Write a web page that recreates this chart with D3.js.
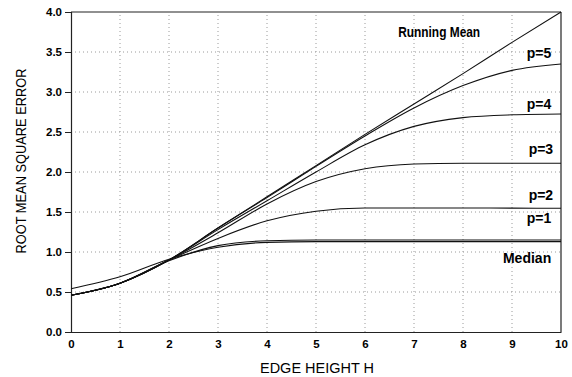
<!DOCTYPE html>
<html>
<head>
<meta charset="utf-8">
<script src="https://cdn.jsdelivr.net/npm/d3@7"></script>
<style>
  body { margin: 0; background: #fff; }
  svg { display: block; }
  .tick text { font-family: "Liberation Sans", Arial, sans-serif; font-weight: bold; font-size: 11.5px; fill: #000; }
</style>
</head>
<body>
<svg id="chart" width="572" height="377"></svg>
<script>
// ---- data ----
const edgeHeights = [0, 1, 2, 3, 4, 5, 6, 7, 8, 9, 10];
const runningMean = [0.46, 0.61, 0.90, 1.30, 1.69, 2.08, 2.47, 2.85, 3.23, 3.62, 4.00];
const p5 = [0.46, 0.61, 0.90, 1.30, 1.68, 2.07, 2.45, 2.80, 3.08, 3.27, 3.35];
const p4 = [0.46, 0.61, 0.90, 1.28, 1.64, 2.00, 2.34, 2.57, 2.68, 2.715, 2.725];
const p3 = [0.46, 0.61, 0.90, 1.24, 1.60, 1.88, 2.04, 2.10, 2.11, 2.11, 2.11];
const p2 = [0.46, 0.61, 0.90, 1.17, 1.39, 1.51, 1.55, 1.55, 1.55, 1.548, 1.546];
const p1 = [0.46, 0.61, 0.89, 1.08, 1.14, 1.15, 1.15, 1.15, 1.15, 1.15, 1.15];
const median = [0.54, 0.69, 0.91, 1.06, 1.12, 1.13, 1.13, 1.13, 1.13, 1.13, 1.13];
const seriesNames = ["Running Mean", "p=5", "p=4", "p=3", "p=2", "p=1", "Median"];
const seriesValues = [runningMean, p5, p4, p3, p2, p1, median];
const xTickValues = [0, 1, 2, 3, 4, 5, 6, 7, 8, 9, 10];
const yTickValues = [0, 0.5, 1.0, 1.5, 2.0, 2.5, 3.0, 3.5, 4.0];
// label anchor values (data coords, right-aligned)
const labelX = [8.35, 9.8, 9.8, 9.84, 9.84, 9.8, 9.8];
const labelY = [3.69, 3.43, 2.79, 2.23, 1.65, 1.36, 0.86];

// ---- layout ----
const svg = d3.select("#chart");
const margin = { left: 71, right: 11, top: 12, bottom: 45 };
const W = 572, H = 377;
const x = d3.scaleLinear().domain([0, 10]).range([margin.left, W - margin.right]);
const y = d3.scaleLinear().domain([0, 4]).range([H - margin.bottom, margin.top]);

// gridlines
const grid = svg.append("g");
grid.selectAll("line.gx").data(xTickValues.filter(d => d > 0 && d < 10)).join("line")
  .attr("x1", d => x(d)).attr("x2", d => x(d))
  .attr("y1", y(0)).attr("y2", y(4))
  .attr("stroke", "#9a9a9a").attr("stroke-width", 1).attr("stroke-dasharray", "1,3");
grid.selectAll("line.gy").data(yTickValues.filter(d => d > 0 && d < 4)).join("line")
  .attr("x1", x(0)).attr("x2", x(10))
  .attr("y1", d => y(d)).attr("y2", d => y(d))
  .attr("stroke", "#9a9a9a").attr("stroke-width", 1).attr("stroke-dasharray", "1,3");

// frame
svg.append("line").attr("x1", x(0)).attr("x2", x(10)).attr("y1", y(4)).attr("y2", y(4))
  .attr("stroke", "#222").attr("stroke-width", 1.2);
svg.append("line").attr("x1", x(10)).attr("x2", x(10)).attr("y1", y(4)).attr("y2", y(0))
  .attr("stroke", "#222").attr("stroke-width", 1.2);

// axes
const xAxis = svg.append("g").attr("transform", `translate(0,${y(0)})`)
  .call(d3.axisBottom(x).tickValues(xTickValues).tickFormat(d3.format("d")).tickSize(0).tickPadding(8));
const yAxis = svg.append("g").attr("transform", `translate(${x(0)},0)`)
  .call(d3.axisLeft(y).tickValues(yTickValues).tickFormat(d3.format(".1f")).tickSize(6).tickPadding(3));
[xAxis, yAxis].forEach(g => {
  g.select(".domain").attr("stroke", "#222").attr("stroke-width", 1.2);
  g.selectAll(".tick line").attr("stroke", "#222");
});

// curves
const line = d3.line().x((d, i) => x(edgeHeights[i])).y(d => y(d)).curve(d3.curveMonotoneX);
svg.append("g").selectAll("path").data(seriesValues).join("path")
  .attr("d", d => line(d))
  .attr("fill", "none").attr("stroke", "#111").attr("stroke-width", 1.1);

// series labels
svg.append("g").selectAll("text").data(seriesNames).join("text")
  .attr("x", (d, i) => x(labelX[i]))
  .attr("y", (d, i) => y(labelY[i]))
  .attr("text-anchor", "end")
  .attr("font-family", "'Liberation Sans', Arial, sans-serif")
  .attr("font-weight", "bold").attr("font-size", 14)
  .each(function(d) {
    if (d === "Running Mean") d3.select(this).attr("textLength", 82).attr("lengthAdjust", "spacingAndGlyphs");
  })
  .text(d => d);

// axis titles
svg.append("text")
  .attr("x", (x(0) + x(10)) / 2 + 1).attr("y", 373)
  .attr("text-anchor", "middle")
  .attr("font-family", "'Liberation Sans', Arial, sans-serif")
  .attr("font-size", 14)
  .attr("textLength", 114).attr("lengthAdjust", "spacingAndGlyphs")
  .text("EDGE HEIGHT H");
svg.append("text")
  .attr("transform", `translate(26,161) rotate(-90)`)
  .attr("text-anchor", "middle")
  .attr("font-family", "'Liberation Sans', Arial, sans-serif")
  .attr("font-size", 14)
  .attr("textLength", 185).attr("lengthAdjust", "spacingAndGlyphs")
  .text("ROOT MEAN SQUARE ERROR");
</script>
</body>
</html>
